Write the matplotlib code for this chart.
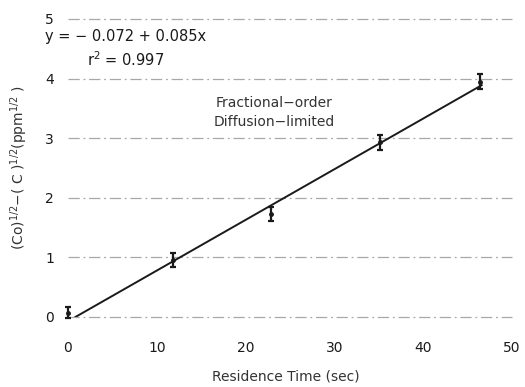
import matplotlib
matplotlib.use('Agg')
import matplotlib.pyplot as plt
import numpy as np

plt.rcParams['font.family'] = ['DejaVu Sans']
plt.rcParams['mathtext.fontset'] = 'dejavusans'

# measured points (residence time in sec vs. sqrt-concentration difference)
time_s = [0.0, 11.8, 22.9, 35.2, 46.4]
delta_sqrt = [0.07, 0.95, 1.73, 2.93, 3.95]
err = [0.09, 0.12, 0.12, 0.13, 0.12]

# fitted line
intercept = -0.072
slope = 0.085
fit_range = [0.85, 46.6]

x_ticks = [0, 10, 20, 30, 40, 50]
y_ticks = [0, 1, 2, 3, 4, 5]

INK = '#1a1a1a'
GRID = '#6e6e6e'

fig = plt.figure(figsize=(5.25, 3.87), dpi=100, facecolor='white')
ax = fig.add_axes([0.1295, 0.181, 0.8455, 0.770])

# faint dashed horizontal guide lines
for yv in y_ticks:
    ax.axhline(yv, color=GRID, lw=0.9, ls=(0, (9, 3, 1.5, 3)), alpha=0.6,
               zorder=1, clip_on=False)

xf = np.array(fit_range)
ax.plot(xf, intercept + slope * xf, color=INK, lw=1.4, zorder=3)

ax.errorbar(time_s, delta_sqrt, yerr=err, fmt='o', ms=2.5, color=INK,
            ecolor=INK, elinewidth=1.6, capsize=2.5, capthick=1.6,
            clip_on=False, zorder=4)

ax.set_xlim(0, 50)
ax.set_ylim(0, 5)
ax.set_xticks(x_ticks)
ax.set_yticks(y_ticks)
ax.tick_params(axis='x', length=0, pad=17, labelsize=10, labelcolor=INK)
ax.tick_params(axis='y', length=0, pad=10, labelsize=10, labelcolor=INK)
for s in ax.spines.values():
    s.set_visible(False)

fig.text(286 / 525, 1 - 377 / 387, 'Residence Time (sec)', fontsize=10,
         color='#333333', va='center', ha='center')
fig.text(19 / 525, 1 - 168 / 387,
         r'(Co)$^{1/2}$$-$( C )$^{1/2}$(ppm$^{1/2}$ )', fontsize=10,
         color='#333333', va='center', ha='center', rotation=90)

fig.text(45 / 525, 1 - 37 / 387, 'y = \u2212 0.072 + 0.085x', fontsize=10.5,
         color=INK, va='center', ha='left')
fig.text(87 / 525, 1 - 60 / 387, r'r$^2$ = 0.997', fontsize=10.5,
         color=INK, va='center', ha='left')
fig.text(274 / 525, 1 - 103 / 387, 'Fractional\u2212order', fontsize=10,
         color='#333333', va='center', ha='center')
fig.text(274 / 525, 1 - 122 / 387, 'Diffusion\u2212limited', fontsize=10,
         color='#333333', va='center', ha='center')

fig.savefig('out.png', dpi=100, facecolor='white')
